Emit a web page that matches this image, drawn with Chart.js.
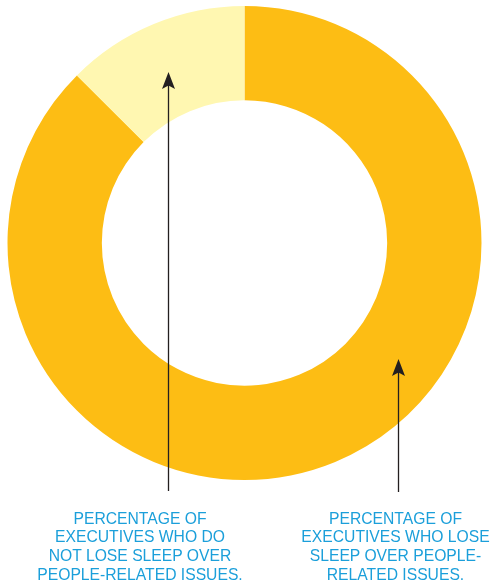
<!DOCTYPE html>
<html>
<head>
<meta charset="utf-8">
<script src="https://cdn.jsdelivr.net/npm/chart.js@4"></script>
<style>
  html, body { margin: 0; padding: 0; background: #fff; }
  #wrap { position: relative; width: 492px; height: 585px; }
  #chart { position: absolute; left: 0; top: 0; }
  .note {
    position: absolute; top: 509.5px;
    font-family: "Liberation Sans", Arial, sans-serif;
    font-size: 15.7px; line-height: 18.8px;
    color: #1b9fda; text-align: center; white-space: nowrap;
    transform: translateX(-50%);
  }
</style>
</head>
<body>
<div id="wrap">
  <canvas id="chart" width="492" height="585"></canvas>
  <div class="note" style="left:140px">PERCENTAGE OF<br>EXECUTIVES WHO DO<br>NOT LOSE SLEEP OVER<br>PEOPLE-RELATED ISSUES.</div>
  <div class="note" style="left:395.5px">PERCENTAGE OF<br>EXECUTIVES WHO LOSE<br>SLEEP OVER PEOPLE-<br>RELATED ISSUES.</div>
</div>
<script>
const categories = ["Lose sleep over people-related issues", "Do not lose sleep over people-related issues"];
const shares = [87.5, 12.5];
const sliceColors = ["#fdbd14", "#fff7b1"];

// callout arrows: offsets from the ring centre (px), tip then tail
const arrows = [
  { dx: -76, tipDy: -171, endDy: 248 },
  { dx: 154, tipDy: 116, endDy: 249 }
];

const arrowPlugin = {
  id: 'arrows',
  afterDatasetsDraw(chart) {
    const arc = chart.getDatasetMeta(0).data[0];
    const ctx = chart.ctx;
    ctx.save();
    ctx.strokeStyle = '#231f20';
    ctx.fillStyle = '#231f20';
    ctx.lineWidth = 1.3;
    arrows.forEach(a => {
      const x = arc.x + a.dx, tip = arc.y + a.tipDy, end = arc.y + a.endDy;
      ctx.beginPath();
      ctx.moveTo(x, tip + 12);
      ctx.lineTo(x, end);
      ctx.stroke();
      ctx.beginPath();
      ctx.moveTo(x, tip);
      ctx.lineTo(x + 6.5, tip + 17);
      ctx.lineTo(x, tip + 13.5);
      ctx.lineTo(x - 6.5, tip + 17);
      ctx.closePath();
      ctx.fill();
    });
    ctx.restore();
  }
};

new Chart(document.getElementById('chart'), {
  type: 'doughnut',
  data: {
    labels: categories,
    datasets: [{
      data: shares,
      backgroundColor: sliceColors,
      borderWidth: 0,
      hoverOffset: 0,
      offset: 0
    }]
  },
  options: {
    responsive: false,
    animation: false,
    events: [],
    cutout: '60.2%',
    layout: { padding: { left: 7, right: 10, top: 6, bottom: 105 } },
    plugins: {
      legend: { display: false },
      tooltip: { enabled: false }
    }
  },
  plugins: [arrowPlugin]
});
</script>
</body>
</html>
